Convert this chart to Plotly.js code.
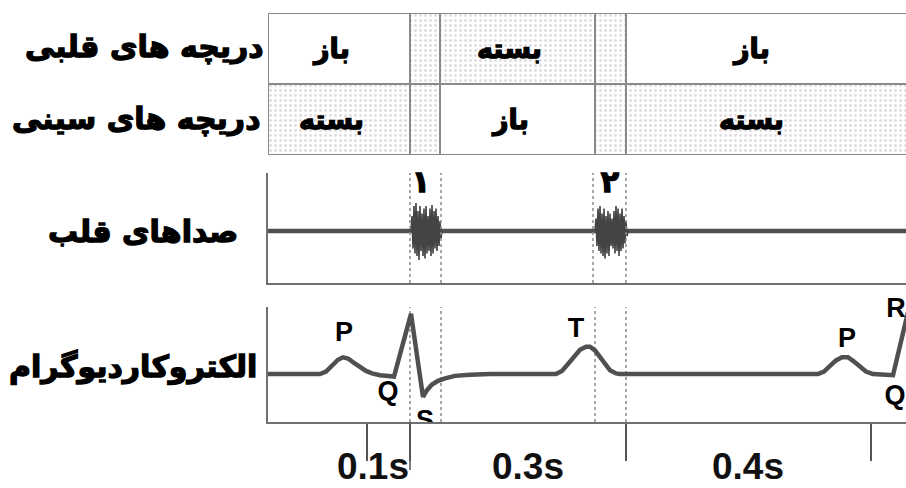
<!DOCTYPE html>
<html>
<head>
<meta charset="utf-8">
<script src="https://cdn.plot.ly/plotly-3.0.1.min.js"></script>
<style>
html,body{margin:0;padding:0;background:#fff}#chart{width:906px;height:488px}
text[style*="DejaVu"]{stroke:#000;stroke-width:1.3px;paint-order:stroke}
</style>
</head>
<body>
<div id="chart"></div>
<script>
// ---- data ----
// phase boundaries (schematic time units)
const phaseEdges = [268, 410, 440, 595, 626, 912];
// valve states per phase ('' = transition column)
const avValves = ['باز', '', 'بسته', '', 'باز'];        // دریچه های قلبی
const semilunarValves = ['بسته', '', 'باز', '', 'بسته']; // دریچه های سینی
const rowLabels = ['دریچه های قلبی', 'دریچه های سینی'];
const soundPanelLabel = 'صداهای قلب';
const ecgPanelLabel = 'الکتروکاردیوگرام';

// ECG trace (time, mV)
const ecgT = [268, 320, 326, 332, 338, 343, 348, 354, 360, 366, 372, 380, 394, 411, 423, 427, 432, 438, 445, 455, 470, 490,
              556, 562, 568, 574, 580, 586, 590, 595, 600, 605, 610, 616, 620,
              818, 824, 830, 836, 842, 848, 854, 860, 866, 873, 893, 908];
const ecgV = [0, 0, 0.04, 0.13, 0.23, 0.27, 0.25, 0.18, 0.11, 0.05, 0.01, -0.02, -0.04, 0.97, -0.37, -0.26, -0.17, -0.11, -0.07, -0.03, -0.01, 0,
              0, 0.05, 0.16, 0.28, 0.39, 0.44, 0.44, 0.38, 0.27, 0.15, 0.06, 0.01, 0,
              0, 0.04, 0.13, 0.22, 0.27, 0.27, 0.20, 0.11, 0.04, 0, -0.02, 1.0];
const waveLabels = ['P', 'Q', 'R', 'T', 'P', 'Q', 'R'];
const waveLabelT = [344, 388, 411, 576, 847, 895, 896];
const waveLabelV = [0.64, -0.31, 1.16, 0.71, 0.55, -0.37, 1.03];
const sLabel = ['S'];
const sLabelT = [425];
const sLabelV = [-0.77];

// heart sounds
const baseT = [268, 906];
const baseV = [0, 0];
const s1T = [411,412,413,414,415,416,417,418,419,420,421,422,423,424,425,426,427,428,429,430,431,432,433,434,435,436,437,438,439,440,441,442];
const s1V = [0,0.3,-0.35,0.5,-0.45,0.56,-0.5,0.4,-0.58,0.5,-0.4,0.35,-0.5,0.45,-0.55,0.5,-0.45,0.3,-0.4,0.45,-0.5,0.52,-0.45,0.4,-0.35,0.45,-0.4,0.3,-0.3,0.2,-0.15,0];
const s2T = [595,596,597,598,599,600,601,602,603,604,605,606,607,608,609,610,611,612,613,614,615,616,617,618,619,620,621,622,623,624,625,626,627,628];
const s2V = [0,0.25,-0.3,0.45,-0.4,0.5,-0.45,0.35,-0.5,0.45,-0.55,0.3,-0.45,0.4,-0.5,0.35,-0.3,0.25,-0.35,0.4,-0.45,0.5,-0.4,0.45,-0.5,0.35,-0.4,0.45,-0.35,0.3,-0.25,0.2,-0.1,0];
const soundLabels = ['۱', '۲'];
const soundLabelT = [421, 610];
const soundLabelV = [0.94, 0.94];

// time axis
const tickT = [367, 410, 626, 871];
const intervalLabels = ['0.1s', '0.3s', '0.4s'];
const intervalLabelT = [373, 528, 748];

// ---- build ----
const shade = '#d3cdd3';
const lineCol = '#505050';
const fa = 'DejaVu Sans';
const la = 'Liberation Sans';

const cx = [], cw = [], cb = [], cc = [], cp = [];
const cellAnn = [];
[avValves, semilunarValves].forEach((row, r) => {
  const base = r === 0 ? 1 : 0;
  row.forEach((s, i) => {
    const x0 = phaseEdges[i], x1 = phaseEdges[i + 1];
    cx.push((x0 + x1) / 2); cw.push(x1 - x0); cb.push(base);
    const shaded = (s === '' || s === 'بسته');
    cc.push(shaded ? shade : '#ffffff');
    cp.push(shaded ? '.' : '');
    if (s) {
      const xc = i === 4 ? (x0 + 906) / 2 - 15 : (x0 + x1) / 2 - 8;
      cellAnn.push({x: xc, y: base + 0.5, xref: 'x', yref: 'y3', xanchor: 'center', yanchor: 'middle', text: s, showarrow: false,
        font: {family: fa, size: 27, color: '#000', weight: 'bold'}});
    }
  });
});

const traces = [
  {type: 'bar', x: cx, width: cw, base: cb, y: cb.map(() => 1), xaxis: 'x', yaxis: 'y3',
   marker: {color: cc, line: {color: '#8a8a8a', width: 2},
            pattern: {shape: cp, fgcolor: '#ffffff', fgopacity: 0.75, size: 5, solidity: 0.25}},
   hoverinfo: 'skip', cliponaxis: false},
  {type: 'scatter', mode: 'lines', x: baseT, y: baseV, xaxis: 'x2', yaxis: 'y2',
   line: {color: lineCol, width: 4.5}, hoverinfo: 'skip'},
  {type: 'scatter', mode: 'lines', x: s1T, y: s1V, xaxis: 'x2', yaxis: 'y2',
   line: {color: '#444', width: 1.6}, hoverinfo: 'skip'},
  {type: 'scatter', mode: 'lines', x: s2T, y: s2V, xaxis: 'x2', yaxis: 'y2',
   line: {color: '#444', width: 1.6}, hoverinfo: 'skip'},
  {type: 'scatter', mode: 'text', x: soundLabelT, y: soundLabelV, text: soundLabels, xaxis: 'x2', yaxis: 'y2',
   textfont: {family: fa, size: 30, color: '#000', weight: 'bold'}, cliponaxis: false, hoverinfo: 'skip'},
  {type: 'scatter', mode: 'lines', x: ecgT, y: ecgV, xaxis: 'x', yaxis: 'y',
   line: {color: lineCol, width: 4.5}, cliponaxis: false, hoverinfo: 'skip'},
  {type: 'scatter', mode: 'text', x: waveLabelT, y: waveLabelV, text: waveLabels, xaxis: 'x', yaxis: 'y',
   textfont: {family: la, size: 27, color: '#000', weight: 'bold'}, cliponaxis: false, hoverinfo: 'skip'},
  {type: 'scatter', mode: 'text', x: sLabelT, y: sLabelV, text: sLabel, xaxis: 'x', yaxis: 'y',
   textfont: {family: la, size: 27, color: '#000', weight: 'bold'}, cliponaxis: true, hoverinfo: 'skip'},
  {type: 'scatter', mode: 'text', x: intervalLabelT, y: intervalLabelT.map(() => 0.29), text: intervalLabels, xaxis: 'x', yaxis: 'y4',
   textfont: {family: la, size: 37, color: '#111', weight: 'bold'}, cliponaxis: false, hoverinfo: 'skip'}
];

const H = 488, W = 906;
const py = p => (H - p) / H;
const xdom = [268 / W, 1];
const axLine = {showline: true, linecolor: '#707070', linewidth: 2, showgrid: false, zeroline: false, showticklabels: false, fixedrange: true};
const noAx = {visible: false, fixedrange: true};

const shapes = [];
[410, 441, 593, 626].forEach(t => shapes.push({type: 'line', xref: 'x2', yref: 'y2 domain', x0: t, x1: t, y0: 0, y1: 1,
  line: {color: '#8a8a8a', width: 1.5, dash: 'dot'}}));
[410, 441, 595, 626].forEach(t => shapes.push({type: 'line', xref: 'x', yref: 'y domain', x0: t, x1: t, y0: 0, y1: 1,
  line: {color: '#8a8a8a', width: 1.5, dash: 'dot'}, layer: 'below'}));
shapes.push({type: 'line', xref: 'x', yref: 'paper', x0: 410, x1: 410, y0: py(422), y1: py(470), line: {color: '#555', width: 1.5}});

const annotations = cellAnn.slice();
const lab = (x, y, t) => ({x: x / W, y: py(y), xref: 'paper', yref: 'paper', xanchor: 'right', yanchor: 'middle', text: t, showarrow: false,
  font: {family: fa, size: 30, color: '#000', weight: 'bold'}});
annotations.push(lab(266, 47, rowLabels[0]));
annotations.push(lab(263, 119, rowLabels[1]));
annotations.push(lab(240, 231, soundPanelLabel));
annotations.push(lab(259, 367, ecgPanelLabel));

const layout = {
  width: W, height: H, margin: {l: 0, r: 0, t: 0, b: 0, pad: 0},
  paper_bgcolor: '#fff', plot_bgcolor: 'rgba(0,0,0,0)', showlegend: false, barmode: 'overlay',
  xaxis: Object.assign({}, axLine, {domain: xdom, range: [268, 906], anchor: 'y', ticks: 'outside', tickvals: tickT,
    ticklen: 37, tickwidth: 1.5, tickcolor: '#555'}),
  xaxis2: Object.assign({}, axLine, {domain: xdom, range: [268, 906], anchor: 'y2', matches: 'x', ticks: ''}),
  yaxis: Object.assign({}, axLine, {domain: [py(422), py(307)], range: [-0.774, 1.081], anchor: 'x', ticks: ''}),
  yaxis2: Object.assign({}, axLine, {domain: [py(283), py(173)], range: [-1.04, 1.16], anchor: 'x2', ticks: ''}),
  yaxis3: Object.assign({}, axLine, {showline: false, domain: [py(155), py(13)], range: [0, 2], anchor: 'x', ticks: ''}),
  yaxis4: Object.assign({}, noAx, {domain: [0, py(424)], range: [0, 1], anchor: 'x'}),
  shapes: shapes, annotations: annotations
};

Plotly.newPlot('chart', traces, layout, {staticPlot: true, displayModeBar: false});
</script>
</body>
</html>
